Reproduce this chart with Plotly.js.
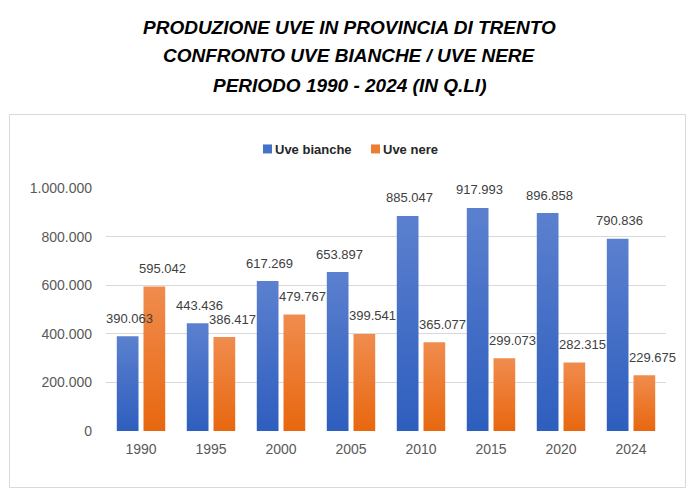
<!DOCTYPE html>
<html>
<head>
<meta charset="utf-8">
<script src="https://cdn.plot.ly/plotly-3.0.1.min.js"></script>
<style>
  html, body { margin: 0; padding: 0; background: #ffffff; }
  #chart { width: 696px; height: 491px; }
</style>
</head>
<body>
<div id="chart"></div>
<script>
// ---- Data ----
const categories = ['1990', '1995', '2000', '2005', '2010', '2015', '2020', '2024'];
const uveBianche = [390063, 443436, 617269, 653897, 885047, 917993, 896858, 790836];
const uveNere    = [595042, 386417, 479767, 399541, 365077, 299073, 282315, 229675];
const seriesNames = ['Uve bianche', 'Uve nere'];
const yTickVals  = [0, 200000, 400000, 600000, 800000, 1000000];
const yTickText  = ['0', '200.000', '400.000', '600.000', '800.000', '1.000.000'];
const titleLines = [
  'PRODUZIONE UVE IN PROVINCIA DI TRENTO',
  'CONFRONTO UVE BIANCHE / UVE NERE',
  'PERIODO 1990 - 2024 (IN Q.LI)'
];

// ---- Helpers ----
function fmt(n) {
  return String(n).replace(/\B(?=(\d{3})+(?!\d))/g, '.');
}

const FONT = 'Liberation Sans, Arial, sans-serif';
const BLUE = '#4472C4';
const ORANGE = '#ED7D31';

// plot area in pixels
const W = 696, H = 491;
const M = { l: 106, r: 30, t: 188, b: 60 };
const plotW = W - M.l - M.r;
const plotH = H - M.t - M.b;
const px2paperX = (px) => (px - M.l) / plotW;
const px2paperY = (py) => (H - M.b - py) / plotH;

const traces = [
  {
    type: 'bar', name: seriesNames[0], x: categories, y: uveBianche,
    marker: { color: BLUE, line: { width: 0 } },
    hoverinfo: 'skip'
  },
  {
    type: 'bar', name: seriesNames[1], x: categories, y: uveNere,
    marker: { color: ORANGE, line: { width: 0 } },
    hoverinfo: 'skip'
  }
];

const annotations = [];
// title lines
const titleY = [27, 55.5, 85];
titleLines.forEach((t, i) => {
  annotations.push({
    text: t, xref: 'paper', yref: 'paper',
    x: px2paperX(349), y: px2paperY(titleY[i]),
    xanchor: 'center', yanchor: 'middle', showarrow: false,
    font: { family: FONT, size: 19, color: '#000000', weight: 'bold', style: 'italic' }
  });
});
// data labels (x given as category index on the category axis)
categories.forEach((c, i) => {
  annotations.push({
    text: fmt(uveBianche[i]), x: i, y: uveBianche[i], xref: 'x', yref: 'y',
    xshift: -12, yshift: 18, showarrow: false, xanchor: 'center', yanchor: 'middle',
    font: { family: FONT, size: 13, color: '#404040' }
  });
  annotations.push({
    text: fmt(uveNere[i]), x: i, y: uveNere[i], xref: 'x', yref: 'y',
    xshift: 21, yshift: 18, showarrow: false, xanchor: 'center', yanchor: 'middle',
    font: { family: FONT, size: 13, color: '#404040' }
  });
});

const layout = {
  width: W, height: H,
  margin: M,
  paper_bgcolor: '#ffffff', plot_bgcolor: '#ffffff',
  font: { family: FONT, size: 14, color: '#595959' },
  barmode: 'group', bargap: 0.237, bargroupgap: 0.187,
  showlegend: true,
  legend: {
    orientation: 'h', x: px2paperX(351), xanchor: 'center',
    y: px2paperY(149), yanchor: 'middle',
    font: { family: FONT, size: 13, color: '#262626', weight: 'bold' },
    itemwidth: 30, bgcolor: 'rgba(0,0,0,0)', tracegroupgap: 0
  },
  xaxis: {
    type: 'category', range: [-0.5, categories.length - 0.5], autorange: false,
    showgrid: false, zeroline: false, showline: false,
    ticks: '', ticklabelstandoff: 8,
    tickfont: { family: FONT, size: 14, color: '#595959' },
    fixedrange: true
  },
  yaxis: {
    range: [0, 1000000], autorange: false, tickvals: yTickVals, ticktext: yTickText,
    showgrid: true, gridcolor: '#d9d9d9', gridwidth: 1,
    zeroline: false, showline: false, ticks: '', ticklabelstandoff: 13,
    tickfont: { family: FONT, size: 14, color: '#595959' },
    fixedrange: true
  },
  shapes: [{
    type: 'rect', xref: 'paper', yref: 'paper', layer: 'below',
    x0: px2paperX(9.5), x1: px2paperX(685.5), y0: px2paperY(487.5), y1: px2paperY(114.5),
    line: { color: '#d9d9d9', width: 1 }, fillcolor: 'rgba(0,0,0,0)'
  }],
  annotations: annotations
};

Plotly.newPlot('chart', traces, layout, { staticPlot: true, displayModeBar: false }).then(function (gd) {
  const svg = gd.querySelector('svg.main-svg');
  let defs = svg.querySelector('defs');
  const NS = 'http://www.w3.org/2000/svg';
  if (!defs) { defs = document.createElementNS(NS, 'defs'); svg.insertBefore(defs, svg.firstChild); }
  function grad(id, top, bottom) {
    const g = document.createElementNS(NS, 'linearGradient');
    g.setAttribute('id', id);
    g.setAttribute('x1', '0'); g.setAttribute('y1', '0');
    g.setAttribute('x2', '0'); g.setAttribute('y2', '1');
    const s1 = document.createElementNS(NS, 'stop');
    s1.setAttribute('offset', '0'); s1.setAttribute('stop-color', top);
    const s2 = document.createElementNS(NS, 'stop');
    s2.setAttribute('offset', '1'); s2.setAttribute('stop-color', bottom);
    g.appendChild(s1); g.appendChild(s2);
    defs.appendChild(g);
  }
  grad('gradBlue', '#5B80CF', '#2E5EBE');
  grad('gradOrange', '#F08C4E', '#E8670F');
  const tr = gd.querySelectorAll('.barlayer .trace');
  const ids = ['gradBlue', 'gradOrange'];
  tr.forEach(function (t, i) {
    t.querySelectorAll('.point path').forEach(function (p) {
      p.style.fill = 'url(#' + ids[i] + ')';
    });
  });

  // legend: small squares close to the text, entries placed like the reference
  const textLeft = [275, 383];
  const items = gd.querySelectorAll('.legend .traces');
  items.forEach(function (item, i) {
    const txt = item.querySelector('text.legendtext');
    const sym = item.querySelector('.legendpoints path');
    if (sym && txt) {
      sym.setAttribute('d', 'M4.5,4.5H-4.5V-4.5H4.5Z');
      const tr0 = sym.getAttribute('transform') || '';
      const sr = sym.getBoundingClientRect();
      const trc = txt.getBoundingClientRect();
      const dxSym = (trc.left - 3) - sr.right;
      sym.setAttribute('transform', tr0 + ' translate(' + dxSym + ',0)');
    }
    if (txt) {
      const dx = textLeft[i] - txt.getBoundingClientRect().left;
      const t0 = item.getAttribute('transform') || '';
      item.setAttribute('transform', t0 + ' translate(' + dx + ',0)');
    }
  });
});
</script>
</body>
</html>
